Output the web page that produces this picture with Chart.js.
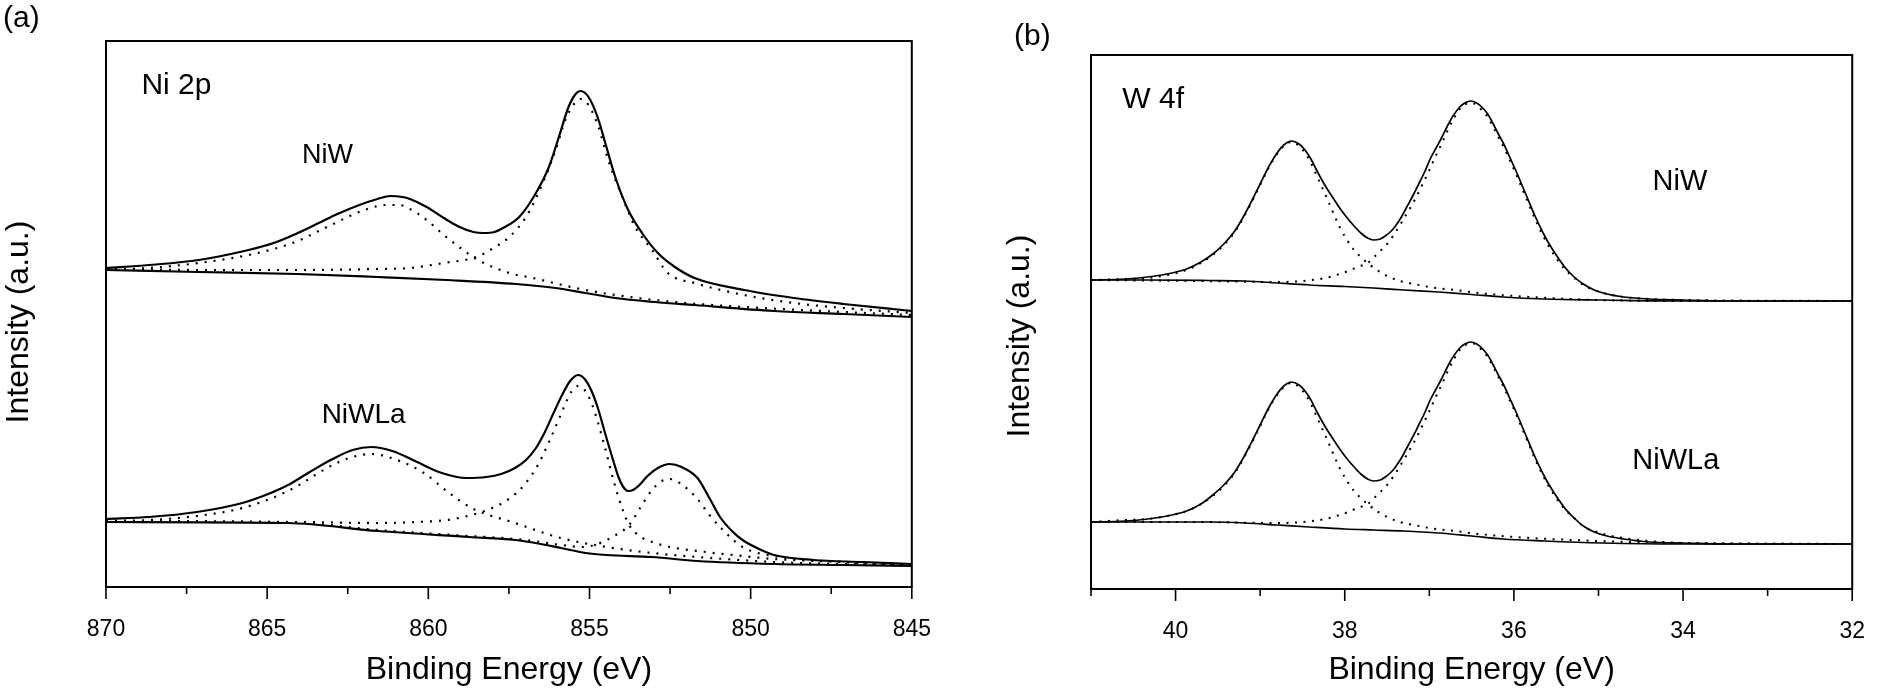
<!DOCTYPE html>
<html><head><meta charset="utf-8">
<script src="https://cdn.jsdelivr.net/npm/chart.js@4.4.0/dist/chart.umd.min.js"></script>
<style>
html,body{margin:0;padding:0;background:#fff;width:1894px;height:691px;overflow:hidden;}
#wa{position:absolute;left:0;top:0;width:960px;height:691px;}
#wb{position:absolute;left:960px;top:0;width:934px;height:691px;}
.lab{position:absolute;font-family:'Liberation Sans',Arial,sans-serif;font-size:30px;color:#000;line-height:1;}
</style></head><body>
<div id="wa"><canvas id="ca"></canvas></div>
<div id="wb"><canvas id="cb"></canvas></div>
<div class="lab" style="left:3px;top:2px">(a)</div>
<div class="lab" style="left:1014px;top:20px">(b)</div>
<script>
// ---------- Panel (a) Ni 2p : x = binding energy (eV), y = intensity (a.u.)
const aLabelTicks = [870,865,860,855,850,845];
const aMinorTicks = [867.5,862.5,857.5,852.5,847.5];

const aNiWEnvX = [870.00,868.66,867.12,865.58,864.80,864.05,863.40,862.82,862.14,861.58,861.18,860.80,860.57,860.05,859.52,859.03,858.60,858.29,857.95,857.68,857.18,856.66,856.26,855.95,855.65,855.43,855.28,855.03,854.75,854.51,854.20,853.80,853.37,852.88,852.35,851.74,850.20,848.66,847.12,845.00];
const aNiWEnvY = [319,322,327,337,344,354,364,373,382,388,391,390,388,380,369,360,355,354,355,359,370,394,420,450,480,493,496,490,470,444,410,377,354,334,320,309,297,289,283,276];
const aNiWSatX = [870.00,868.66,867.12,865.58,864.80,864.05,863.40,862.82,862.30,861.89,861.34,860.90,860.57,860.05,859.52,859.00,858.51,857.49,856.75,855.43,854.20,852.35,850.20,847.12,845.00];
const aNiWSatY = [317,319,324,332,338,346,356,365,373,378,382,382,378,367,352,339,328,314,309,299,292,285,280,275,272];
const aNiWMainX = [870.00,867.12,864.05,861.58,860.57,859.52,858.51,857.98,857.49,856.97,856.45,856.05,855.75,855.43,855.28,855.03,854.72,854.42,853.98,853.58,853.06,852.57,851.74,850.20,848.66,847.12,845.00];
const aNiWMainY = [318,317,317,318,319,324,330,339,350,370,404,437,467,485,488,482,460,427,390,360,337,314,304,292,284,279,274];
const aNiWBgX = [870.00,867.12,864.05,861.58,859.43,857.28,856.05,855.12,854.20,852.97,851.74,849.28,847.12,845.00];
const aNiWBgY = [317,315,313,310,307,303,299,294,289,285,282,276,273,270];

const aNiWLaEnvX = [870.00,868.66,867.18,865.77,864.97,864.35,863.68,862.97,862.35,861.77,861.12,860.35,859.58,858.82,858.20,857.74,857.31,856.97,856.66,856.40,856.10,855.85,855.60,855.35,855.15,854.95,854.75,854.50,854.25,854.10,853.95,853.80,853.65,853.45,853.20,852.88,852.51,852.14,851.65,851.28,850.95,850.58,850.25,849.74,849.28,848.05,846.51,845.00];
const aNiWLaEnvY = [68,70,75,84,93,102,115,128,137,140,136,125,114,109,110,113,119,127,139,154,175,192,206,212,208,197,180,152,125,110,100,96,97,102,111,119,123,120,109,89,70,56,47,38,32,27,25,23];
const aNiWLaSatX = [870.00,868.66,867.18,865.77,864.35,862.97,862.35,861.77,860.97,860.14,859.43,858.66,857.31,855.89,854.48,853.06,851.65,849.28,847.12,845.00];
const aNiWLaSatY = [66,67,71,79,96,122,130,133,127,114,96,79,64,49,40,34,30,25,23,22];
const aNiWLaMainX = [870.00,867.12,864.35,861.55,860.35,859.43,858.66,858.02,857.50,857.00,856.60,856.30,856.00,855.75,855.55,855.35,855.15,854.95,854.75,854.50,854.25,854.00,853.77,853.40,853.06,852.50,851.65,850.25,849.28,847.12,845.00];
const aNiWLaMainY = [66,65,65,64,65,67,72,79,88,103,122,142,164,183,196,201,197,185,166,137,106,80,62,50,45,40,36,31,28,25,22];
const aNiWLaThirdX = [870.00,864.35,861.55,858.72,857.31,856.51,855.89,855.18,854.75,854.35,853.77,853.43,853.06,852.75,852.51,852.20,851.65,851.28,850.95,850.25,849.28,847.12,845.00];
const aNiWLaThirdY = [66,65,57,51,48,45,42,40,43,49,62,79,97,106,108,104,88,72,60,40,31,25,22];
const aNiWLaBgX = [870.00,864.35,861.55,858.72,857.31,856.51,855.89,855.12,854.48,853.06,851.65,849.28,847.12,845.00];
const aNiWLaBgY = [65,64,56,50,47,43,39,34,32,30,26,23,22,21];

// ---------- Panel (b) W 4f
const bLabelTicks = [40,38,36,34,32];
const bMinorTicks = [41,39,37,35,33];

const bEnvX = [41.00,40.60,40.33,40.10,39.87,39.70,39.56,39.43,39.30,39.20,39.10,39.00,38.90,38.80,38.72,38.63,38.54,38.47,38.40,38.34,38.27,38.20,38.13,38.06,37.98,37.90,37.81,37.73,37.66,37.58,37.52,37.45,37.40,37.33,37.26,37.19,37.12,37.05,36.99,36.92,36.85,36.78,36.72,36.64,36.58,36.51,36.44,36.38,36.31,36.25,36.19,36.12,36.05,35.98,35.91,35.84,35.75,35.66,35.59,35.50,35.40,35.30,35.18,35.05,34.90,34.70,34.40,34.00,33.44,32.00];
const bNiWEnvY = [309,310,312,315,320,327,335,345,358,372,388,405,422,436,444,448,445,439,430,420,409,399,390,381,372,364,356,351,349,350,353,358,363,372,383,394,406,418,430,441,452,464,473,482,486,488,486,482,475,466,456,445,432,419,405,391,373,357,346,334,322,313,305,299,295,292,290,289,288,288];
const bNiWLaEnvY = [67,68,70,73,78,85,94,104,117,131,147,164,181,195,203,207,204,198,189,179,168,158,149,140,131,123,115,110,108,109,112,117,122,131,142,153,165,177,189,200,211,223,232,241,245,247,245,241,234,225,215,204,191,178,164,150,132,116,105,93,81,72,63,57,53,50,47,46,45,45];

const bC1X = [41.00,40.60,40.33,40.10,39.87,39.70,39.56,39.43,39.30,39.20,39.10,39.00,38.90,38.80,38.72,38.63,38.54,38.47,38.40,38.34,38.27,38.20,38.13,38.06,37.98,37.90,37.81,37.73,37.62,37.50,37.35,37.18,37.00,36.70,36.30,35.80,35.00,34.00,32.00];
const bNiWC1Y = [309,310,311,314,319,326,334,344,357,371,387,404,421,435,443,447,443,436,426,415,402,389,375,362,350,340,332,326,319,313,308,305,302,299,295,292,289,288,288];
const bNiWLaC1Y = [67,69,70,73,78,85,93,103,116,130,146,163,180,194,202,206,202,195,185,174,161,148,134,121,109,99,91,85,78,72,67,64,61,58,54,51,48,46,45];

const bC2X = [41.00,39.75,38.80,38.50,38.23,38.06,37.96,37.85,37.73,37.64,37.58,37.50,37.43,37.36,37.29,37.22,37.16,37.09,37.01,36.93,36.85,36.77,36.70,36.63,36.57,36.51,36.44,36.38,36.31,36.25,36.19,36.12,36.05,35.98,35.91,35.84,35.75,35.66,35.59,35.50,35.40,35.30,35.18,35.05,34.90,34.70,34.40,34.00,32.00];
const bNiWC2Y = [309,308,307,308,311,315,318,322,326,333,338,345,353,362,372,382,391,403,417,432,446,461,472,481,485,486,484,479,472,463,453,442,429,416,402,388,370,354,343,331,320,312,304,299,295,292,290,289,288];
const bNiWLaC2Y = [67,67,66,67,70,74,77,81,85,92,97,104,112,121,131,141,150,162,176,191,205,220,231,240,244,246,244,239,232,223,213,202,189,176,162,148,130,114,103,91,80,72,63,58,54,51,48,46,45];

const bBgX = [41.00,40.33,39.60,39.18,38.80,38.42,38.00,37.66,37.30,36.89,36.50,36.13,35.64,34.95,34.04,32.00];
const bNiWBgY = [309,309,308.5,308,306,304,302.5,301,299,297,294.5,292,290,289,288,288];
const bNiWLaBgY = [67,67,67,66,64,62,60,59,58,56,53,50,48,46,45,45];

// ---------- helpers
const FONT = "'Liberation Sans', Arial, sans-serif";
const pts = (xs, ys) => xs.map((x, i) => ({x: x, y: ys[i]}));
function solid(xs, ys, w){ return {data: pts(xs, ys), borderColor:'#000', borderWidth:w, pointRadius:0, fill:false, cubicInterpolationMode:'monotone'}; }
function dotted(xs, ys, w, dash){ return {data: pts(xs, ys), borderColor:'#000', borderWidth:w, borderDash:dash, pointRadius:0, fill:false, cubicInterpolationMode:'monotone'}; }

const framePlugin = {
  id: 'frame',
  afterDraw(chart, args, o) {
    const ctx = chart.ctx, a = chart.chartArea, xs = chart.scales.x, ys = chart.scales.y;
    ctx.save();
    ctx.strokeStyle = '#000';
    ctx.lineWidth = o.lw;
    ctx.strokeRect(a.left, a.top, a.right - a.left, a.bottom - a.top);
    ctx.lineWidth = o.tw;
    ctx.beginPath();
    o.major.forEach(v => { const p = xs.getPixelForValue(v); ctx.moveTo(p, a.bottom); ctx.lineTo(p, a.bottom + o.majorLen); });
    o.minor.forEach(v => { const p = xs.getPixelForValue(v); ctx.moveTo(p, a.bottom); ctx.lineTo(p, a.bottom + o.minorLen); });
    ctx.stroke();
    ctx.fillStyle = '#000';
    ctx.textAlign = 'left';
    ctx.textBaseline = 'alphabetic';
    o.notes.forEach(n => {
      ctx.font = n.size + 'px ' + FONT;
      ctx.fillText(n.t, xs.getPixelForValue(n.x), ys.getPixelForValue(n.y));
    });
    ctx.translate(a.left + o.yTitleDx, (a.top + a.bottom) / 2 + o.yTitleDy);
    ctx.rotate(-Math.PI / 2);
    ctx.textAlign = 'center';
    ctx.font = o.yTitleSize + 'px ' + FONT;
    ctx.fillText(o.yTitle, 0, 0);
    ctx.restore();
  }
};

function makeChart(id, cfg) {
  return new Chart(document.getElementById(id), {
    type: 'line',
    data: {datasets: cfg.datasets},
    plugins: [framePlugin],
    options: {
      responsive: true, maintainAspectRatio: false, animation: false,
      layout: {padding: cfg.padding},
      plugins: {legend: {display: false}, tooltip: {enabled: false}, frame: cfg.frame},
      scales: {
        x: {
          type: 'linear', reverse: true, min: cfg.xmin, max: cfg.xmax,
          afterBuildTicks: s => { s.ticks = cfg.labelTicks.map(v => ({value: v})); },
          afterFit: s => { s.height = cfg.xAxisH; },
          grid: {display: false, drawTicks: false},
          border: {display: false},
          ticks: {autoSkip: false, maxRotation: 0, padding: 29, color: '#000', font: {family: FONT, size: 23}, callback: v => String(v)},
          title: {display: true, text: 'Binding Energy (eV)', color: '#000', font: {family: FONT, size: 32}, padding: {top: 0, bottom: 2}}
        },
        y: {type: 'linear', display: false, min: 0, max: cfg.ymax}
      }
    }
  });
}

makeChart('ca', {
  xmin: 845, xmax: 870, ymax: 546, xAxisH: 104, labelTicks: aLabelTicks,
  padding: {left: 106, right: 41, top: 41, bottom: 0},
  datasets: [
    solid(aNiWEnvX, aNiWEnvY, 2.2), dotted(aNiWSatX, aNiWSatY, 2.2, [2, 7]), dotted(aNiWMainX, aNiWMainY, 2.2, [2, 7]), solid(aNiWBgX, aNiWBgY, 2.2),
    solid(aNiWLaEnvX, aNiWLaEnvY, 2.2), dotted(aNiWLaSatX, aNiWLaSatY, 2.2, [2, 7]), dotted(aNiWLaMainX, aNiWLaMainY, 2.2, [2, 7]), dotted(aNiWLaThirdX, aNiWLaThirdY, 2.2, [2, 7]), solid(aNiWLaBgX, aNiWLaBgY, 2.2)
  ],
  frame: {lw: 2, tw: 1.6, major: aLabelTicks, minor: aMinorTicks, majorLen: 12, minorLen: 7,
    yTitle: 'Intensity (a.u.)', yTitleSize: 32, yTitleDx: -78, yTitleDy: 8,
    notes: [{t: 'Ni 2p', x: 868.9, y: 493, size: 30}, {t: 'NiW', x: 863.92, y: 424, size: 27}, {t: 'NiWLa', x: 863.31, y: 164, size: 28}]}
});

makeChart('cb', {
  xmin: 32, xmax: 41, ymax: 534, xAxisH: 102, labelTicks: bLabelTicks,
  padding: {left: 131, right: 16, top: 55, bottom: 0},
  datasets: [
    solid(bEnvX, bNiWEnvY, 1.7), dotted(bC1X, bNiWC1Y, 2, [2, 6.5]), dotted(bC2X, bNiWC2Y, 2, [2, 6.5]), solid(bBgX, bNiWBgY, 1.7),
    solid(bEnvX, bNiWLaEnvY, 1.7), dotted(bC1X, bNiWLaC1Y, 2, [2, 6.5]), dotted(bC2X, bNiWLaC2Y, 2, [2, 6.5]), solid(bBgX, bNiWLaBgY, 1.7)
  ],
  frame: {lw: 2, tw: 1.6, major: bLabelTicks, minor: bMinorTicks, majorLen: 12, minorLen: 7,
    yTitle: 'Intensity (a.u.)', yTitleSize: 32, yTitleDx: -62, yTitleDy: 14,
    notes: [{t: 'W 4f', x: 40.63, y: 481, size: 30}, {t: 'NiW', x: 34.36, y: 399, size: 29}, {t: 'NiWLa', x: 34.6, y: 120, size: 29}]}
});
</script>
</body></html>
